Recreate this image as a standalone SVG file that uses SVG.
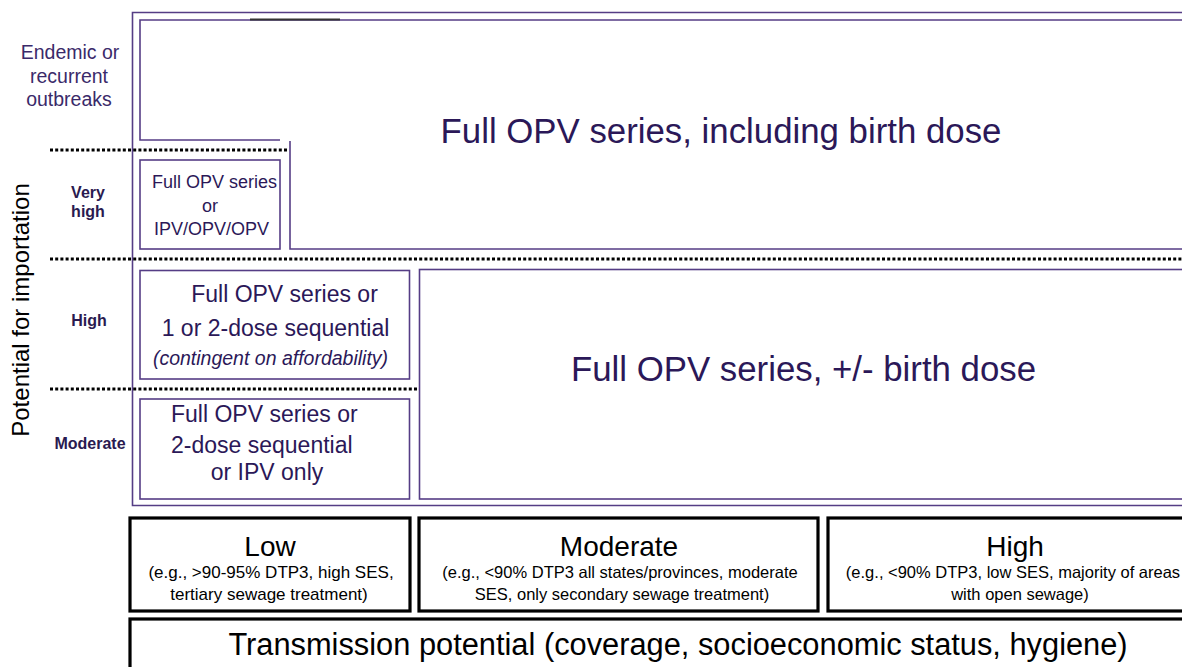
<svg xmlns="http://www.w3.org/2000/svg" width="1182" height="667" viewBox="0 0 1182 667">
<defs>
<style>
.p{fill:none;stroke:#553d85;stroke-width:1.6}
.dot{fill:none;stroke:#000;stroke-width:3;stroke-dasharray:3 2.2}
.blk{fill:#fff;stroke:#000;stroke-width:3.2}
.t{font-family:"Liberation Sans",Arial,sans-serif;fill:#2b1858}
.lab{font-family:"Liberation Sans",Arial,sans-serif;fill:#3a2a6a;font-size:19.5px;text-anchor:middle}
.bl{font-family:"Liberation Sans",Arial,sans-serif;fill:#2a1a50;font-size:16px;font-weight:bold;text-anchor:middle}
.k{font-family:"Liberation Sans",Arial,sans-serif;fill:#000;text-anchor:middle}
</style>
</defs>
<rect width="1182" height="667" fill="#fff"/>
<g id="axis-label">
<text class="k" style="font-size:24px" transform="translate(29,310) rotate(-90)">Potential for importation</text>
</g>
<g id="row-labels">
<text class="lab" x="70" y="59">Endemic or</text>
<text class="lab" x="69" y="83">recurrent</text>
<text class="lab" x="69" y="106">outbreaks</text>
<text class="bl" x="88" y="198">Very</text>
<text class="bl" x="88" y="217">high</text>
<text class="bl" x="89" y="326">High</text>
<text class="bl" x="90" y="449">Moderate</text>
</g>
<g id="frame">
<path class="p" d="M1190,12.5 H132.5 V505.5 H1190"/>
</g>
<g id="full-opv-birth">
<path class="p" d="M1190,20 H140 V140 H280 M290,141 V249 H1190"/>
<line x1="250" y1="19.5" x2="340" y2="19.5" stroke="#333" stroke-width="2"/>
<text class="t" x="721" y="143" style="font-size:34.8px" text-anchor="middle">Full OPV series, including birth dose</text>
</g>
<g id="very-high-box">
<rect class="p" x="140" y="160" width="140" height="89"/>
<text class="t" style="font-size:18px" text-anchor="middle"><tspan x="214.5" y="188">Full OPV series</tspan><tspan x="210" y="212">or</tspan><tspan x="211.5" y="235">IPV/OPV/OPV</tspan></text>
</g>
<g id="high-box">
<rect class="p" x="140" y="270.5" width="269.5" height="108.5"/>
<text class="t" style="font-size:23px" text-anchor="middle"><tspan x="284.5" y="302">Full OPV series or</tspan><tspan x="275.5" y="336">1 or 2-dose sequential</tspan></text>
<text class="t" x="270.5" y="365" style="font-size:19.5px;font-style:italic" text-anchor="middle">(contingent on affordability)</text>
</g>
<g id="moderate-box">
<rect class="p" x="140" y="399" width="269.5" height="100"/>
<text class="t" style="font-size:23px"><tspan x="171" y="422">Full OPV series or</tspan><tspan x="171" y="453">2-dose sequential</tspan><tspan x="267" y="480" text-anchor="middle">or IPV only</tspan></text>
</g>
<g id="full-opv-pm">
<rect class="p" x="419.5" y="269.5" width="800" height="229.5"/>
<text class="t" x="803.5" y="381" style="font-size:34.8px" text-anchor="middle">Full OPV series, +/- birth dose</text>
</g>
<g id="connectors">
<line class="dot" x1="50" y1="150" x2="288" y2="150"/>
<line class="dot" x1="50" y1="259" x2="1182" y2="259"/>
<line class="dot" x1="50" y1="389" x2="419" y2="389"/>
</g>
<g id="low">
<rect class="blk" x="130" y="518" width="280" height="93"/>
<text class="k" x="270" y="556" style="font-size:28px">Low</text>
<text class="k" style="font-size:17px"><tspan x="271" y="578">(e.g., &gt;90-95% DTP3, high SES,</tspan><tspan x="269" y="600">tertiary sewage treatment)</tspan></text>
</g>
<g id="moderate">
<rect class="blk" x="419" y="518" width="399" height="93"/>
<text class="k" x="619" y="556" style="font-size:28px">Moderate</text>
<text class="k" style="font-size:16.5px"><tspan x="620" y="578">(e.g., &lt;90% DTP3 all states/provinces, moderate</tspan><tspan x="622" y="600">SES, only secondary sewage treatment)</tspan></text>
</g>
<g id="high">
<rect class="blk" x="828" y="518" width="374" height="93"/>
<text class="k" x="1015" y="556" style="font-size:28px">High</text>
<text class="k" style="font-size:16.5px"><tspan x="1013" y="578">(e.g., &lt;90% DTP3, low SES, majority of areas</tspan><tspan x="1020" y="600">with open sewage)</tspan></text>
</g>
<g id="transmission">
<rect class="blk" x="130" y="619" width="1100" height="60"/>
<text class="k" x="678" y="655" style="font-size:30.8px">Transmission potential (coverage, socioeconomic status, hygiene)</text>
</g>
</svg>
